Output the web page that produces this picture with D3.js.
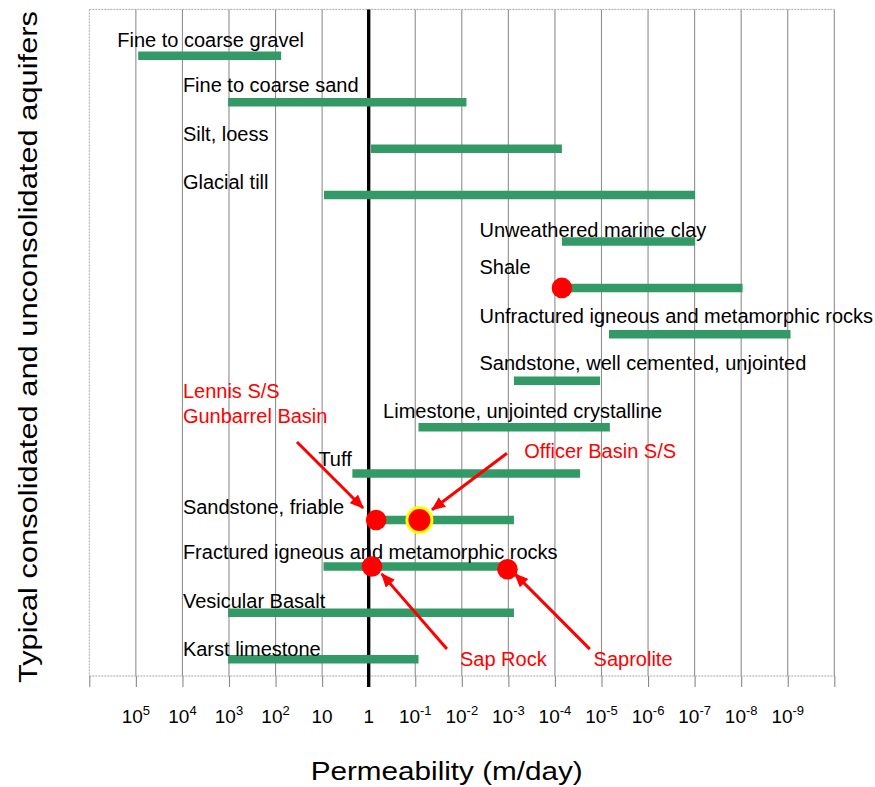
<!DOCTYPE html>
<html>
<head>
<meta charset="utf-8">
<script src="https://cdn.jsdelivr.net/npm/d3@7"></script>
<style>
  body { margin: 0; background: #fff; }
  svg { display: block; }
  text { font-family: "Liberation Sans", Arial, Helvetica, sans-serif; }
</style>
</head>
<body>
<svg id="chart" width="875" height="787"></svg>
<script>
// Aquifer materials, top to bottom (row 1 .. 14)
const materials = [
  "Fine to coarse gravel",
  "Fine to coarse sand",
  "Silt, loess",
  "Glacial till",
  "Unweathered marine clay",
  "Shale",
  "Unfractured igneous and metamorphic rocks",
  "Sandstone, well cemented, unjointed",
  "Limestone, unjointed crystalline",
  "Tuff",
  "Sandstone, friable",
  "Fractured igneous and metamorphic rocks",
  "Vesicular Basalt",
  "Karst limestone"
];
// Permeability range of each material, log10(m/day)
const rangeHighLog = [4.95, 3.02, -0.05, 0.96, -4.15, -4.15, -5.16, -3.12, -1.07, 0.35, -0.16, 0.97, 3.02, 3.02];
const rangeLowLog  = [1.88, -2.10, -4.15, -7.01, -7.01, -8.03, -9.06, -4.97, -5.18, -4.54, -3.12, -2.98, -3.12, -1.07];

// Measured samples: name, log10(m/day), row
const sampleNames = ["Shale", "Lennis S/S Gunbarrel Basin", "Officer Basin S/S", "Sap Rock", "Saprolite"];
const sampleLog   = [-4.15, -0.16, -1.09, -0.07, -2.98];
const sampleRow   = [6, 11, 11, 12, 12.06];

// Axis tick exponents
const tickExponents = [5, 4, 3, 2, 1, 0, -1, -2, -3, -4, -5, -6, -7, -8, -9];
const gridExponents = d3.range(6, -11, -1);

// Label placement for each material: [log10 start, row of baseline]
const materialLabelAt = [
  [5.40, 0.80], [3.99, 1.79], [3.99, 2.83], [3.99, 3.87], [-2.38, 4.90],
  [-2.38, 5.70], [-2.38, 6.75], [-2.38, 7.77], [-0.31, 8.80], [1.08, 9.84],
  [3.99, 10.86], [3.99, 11.85], [3.99, 12.90], [3.99, 13.93]
];

// Sample callouts: text lines, text anchor, arrow tail and tip [log, row]
const callouts = [
  { lines: ["Lennis S/S", "Gunbarrel Basin"], at: [3.99, 8.37], tail: [1.54, 9.32], tip: [0.12, 10.74] },
  { lines: ["Officer Basin S/S"], at: [-3.34, 9.67], tail: [-2.97, 9.56], tip: [-1.36, 10.78] },
  { lines: ["Sap Rock"], at: [-1.96, 14.14], tail: [-1.68, 13.78], tip: [-0.28, 12.16] },
  { lines: ["Saprolite"], at: [-4.83, 14.14], tail: [-4.75, 13.78], tip: [-3.14, 12.16] }
];

const plot = { left: 89.3, right: 834.3, top: 9.4, bottom: 676 };
const svg = d3.select("#chart");

const x = d3.scaleLog().domain([1e6, 1e-10]).range([plot.left, plot.right]);
const xe = e => x(Math.pow(10, e));
const y = d3.scaleLinear().domain([0, 14.36]).range([plot.top, plot.bottom]);

const GREEN = "#339966", RED = "#ff0000", GRID = "#8e8e8e";

// Vertical grid at each decade
svg.append("g").selectAll("line")
  .data(gridExponents.filter(e => e !== 6 && e !== 0))
  .join("line")
  .attr("x1", d => xe(d)).attr("x2", d => xe(d))
  .attr("y1", plot.top).attr("y2", plot.bottom)
  .attr("stroke", GRID).attr("stroke-width", 1.1);

// Plot frame: dashed top, bottom and left edges
const frame = svg.append("g").attr("stroke", "#a8a8a8").attr("stroke-width", 1).attr("stroke-dasharray", "2,1");
frame.append("line").attr("x1", plot.left).attr("x2", plot.right).attr("y1", plot.top).attr("y2", plot.top);
frame.append("line").attr("x1", plot.left).attr("x2", plot.right).attr("y1", plot.bottom).attr("y2", plot.bottom);
frame.append("line").attr("x1", plot.left).attr("x2", plot.left).attr("y1", plot.top).attr("y2", plot.bottom);

// Bottom axis ticks
const xAxis = d3.axisBottom(x)
  .tickValues(gridExponents.map(e => Math.pow(10, e)))
  .tickSize(11).tickFormat("");
svg.append("g").attr("transform", `translate(0,${plot.bottom})`).call(xAxis)
  .call(g => g.select(".domain").remove())
  .call(g => g.selectAll(".tick line").attr("stroke", "#888").attr("stroke-width", 1.1));

// Tick labels as powers of ten
const tickLabels = svg.append("g").selectAll("text").data(tickExponents).join("text")
  .attr("x", d => xe(d)).attr("y", 723)
  .attr("text-anchor", "middle").attr("font-size", 19).attr("fill", "#000");
tickLabels.each(function (e) {
  const t = d3.select(this);
  if (e === 0) { t.text("1"); return; }
  t.append("tspan").text("10");
  if (e !== 1) {
    t.append("tspan").attr("dy", -8).attr("font-size", 13).text(String(e));
  }
});

// Reference line at 1 m/day
svg.append("line")
  .attr("x1", xe(0)).attr("x2", xe(0))
  .attr("y1", plot.top).attr("y2", plot.bottom + 11)
  .attr("stroke", "#000").attr("stroke-width", 3.4);

// Permeability range bars
svg.append("g").selectAll("line").data(materials).join("line")
  .attr("x1", (d, i) => xe(rangeHighLog[i]))
  .attr("x2", (d, i) => xe(rangeLowLog[i]))
  .attr("y1", (d, i) => y(i + 1)).attr("y2", (d, i) => y(i + 1))
  .attr("stroke", GREEN).attr("stroke-width", 8.5);

// Material labels
svg.append("g").selectAll("text").data(materials).join("text")
  .attr("x", (d, i) => xe(materialLabelAt[i][0]))
  .attr("y", (d, i) => y(materialLabelAt[i][1]))
  .attr("font-size", 20).attr("fill", "#000")
  .text(d => d);

// Sample points
svg.append("g").selectAll("circle").data(sampleNames).join("circle")
  .attr("cx", (d, i) => xe(sampleLog[i]))
  .attr("cy", (d, i) => y(sampleRow[i]))
  .attr("r", d => d === "Officer Basin S/S" ? 12.5 : 10.3)
  .attr("fill", RED)
  .attr("stroke", d => d === "Officer Basin S/S" ? "#ffff00" : "none")
  .attr("stroke-width", 3);

// Callout arrows
svg.append("defs").append("marker")
  .attr("id", "arrowHead").attr("markerUnits", "userSpaceOnUse")
  .attr("markerWidth", 14).attr("markerHeight", 12)
  .attr("refX", 13).attr("refY", 6).attr("orient", "auto")
  .append("path").attr("d", "M0,0 L14,6 L0,12 Z").attr("fill", RED);

svg.append("g").selectAll("line").data(callouts).join("line")
  .attr("x1", d => xe(d.tail[0])).attr("y1", d => y(d.tail[1]))
  .attr("x2", d => xe(d.tip[0])).attr("y2", d => y(d.tip[1]))
  .attr("stroke", RED).attr("stroke-width", 3)
  .attr("marker-end", "url(#arrowHead)");

// Callout texts
const co = svg.append("g").selectAll("text").data(callouts).join("text")
  .attr("x", d => xe(d.at[0])).attr("y", d => y(d.at[1]))
  .attr("font-size", 20).attr("fill", RED);
co.each(function (d) {
  const t = d3.select(this);
  d.lines.forEach((line, k) => {
    t.append("tspan").attr("x", xe(d.at[0])).attr("dy", k === 0 ? 0 : 25).text(line);
  });
});

// Axis titles
svg.append("text")
  .attr("x", 446.7).attr("y", 780)
  .attr("text-anchor", "middle").attr("font-size", 26)
  .attr("textLength", 272).attr("lengthAdjust", "spacingAndGlyphs")
  .text("Permeability (m/day)");

svg.append("text")
  .attr("transform", "translate(37,347) rotate(-90)")
  .attr("text-anchor", "middle").attr("font-size", 26)
  .attr("textLength", 672).attr("lengthAdjust", "spacingAndGlyphs")
  .text("Typical consolidated and unconsolidated aquifers");
</script>
</body>
</html>
